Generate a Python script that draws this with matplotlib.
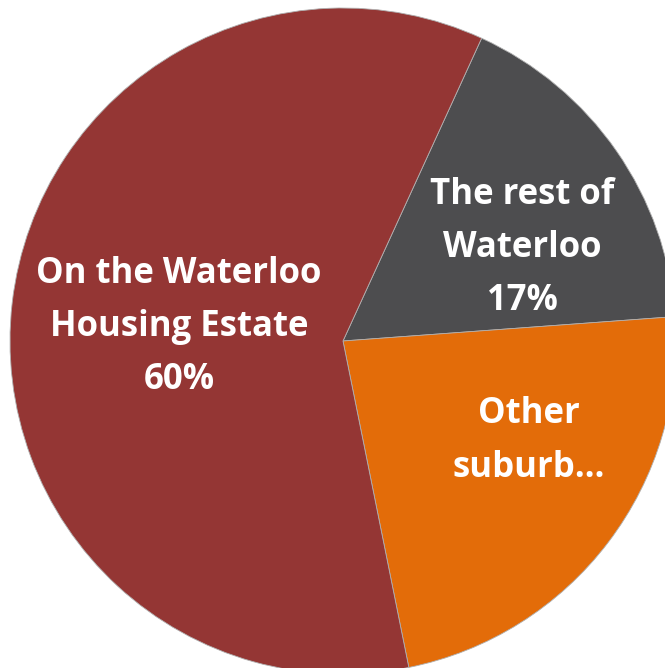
import matplotlib.pyplot as plt

# slices, clockwise from the top-right
categories = ['The rest of Waterloo', 'Other suburbs', 'On the Waterloo Housing Estate']
shares = [17, 23, 60]
slice_labels = ['The rest of\nWaterloo\n17%', 'Other\nsuburb…', 'On the Waterloo\nHousing Estate\n60%']
colors = ['#4d4d4f', '#e36c09', '#943634']

W, H = 665, 668
fig = plt.figure(figsize=(W / 100, H / 100), dpi=100)
ax = fig.add_axes([0, 0, 1, 1])

ax.pie(shares, colors=colors, radius=333, center=(343, H - 341),
       startangle=65.4, counterclock=False,
       wedgeprops=dict(edgecolor='#b0b0b0', linewidth=0.6))

# label positions in pixels (from top-left)
label_pos = [(522, 248), (529, 441), (179, 327)]
for txt, (x, y) in zip(slice_labels, label_pos):
    ax.text(x, H - y, txt, ha='center', va='center', color='white',
            fontsize=25, fontweight='bold', family='Open Sans', linespacing=1.63)

ax.set_xlim(0, W)
ax.set_ylim(0, H)
ax.set_aspect('equal')
ax.axis('off')

fig.savefig('out.png', dpi=100)
